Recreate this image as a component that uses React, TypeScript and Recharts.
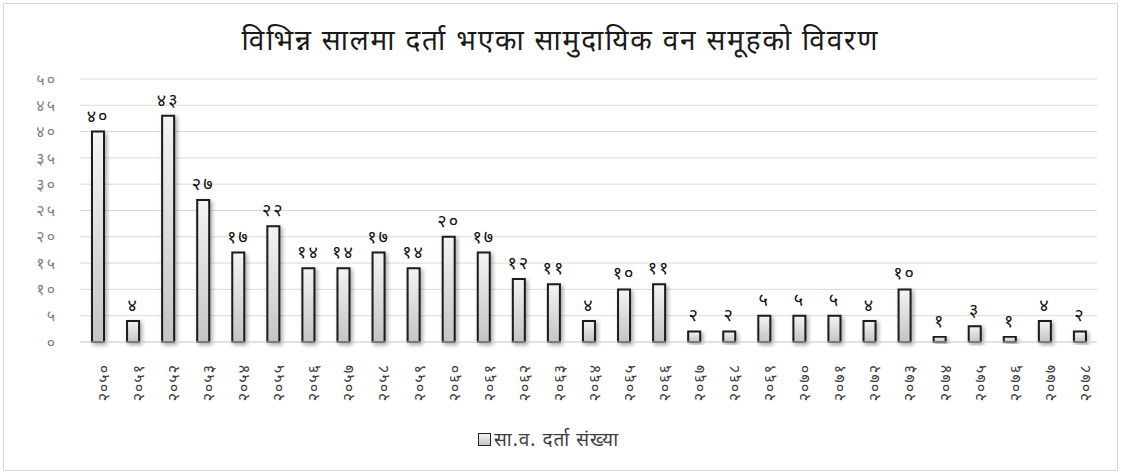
import React from 'react';
import { BarChart, Bar, XAxis, YAxis, CartesianGrid, Legend, LabelList } from 'recharts';

const years = [
  '२०५०', '२०५१', '२०५२', '२०५३', '२०५४', '२०५५', '२०५६', '२०५७', '२०५८', '२०५९',
  '२०६०', '२०६१', '२०६२', '२०६३', '२०६४', '२०६५', '२०६६', '२०६७', '२०६८', '२०६९',
  '२०७०', '२०७१', '२०७२', '२०७३', '२०७४', '२०७५', '२०७६', '२०७७', '२०७८',
];
const counts = [40, 4, 43, 27, 17, 22, 14, 14, 17, 14, 20, 17, 12, 11, 4, 10, 11, 2, 2, 5, 5, 5, 4, 10, 1, 3, 1, 4, 2];
const yTicks = [0, 5, 10, 15, 20, 25, 30, 35, 40, 45, 50];
const seriesName = 'सा.व. दर्ता संख्या';
const title = 'विभिन्न सालमा दर्ता भएका सामुदायिक वन समूहको विवरण';

const neDigits = '०१२३४५६७८९';
const toNe = (v: any) => String(v).replace(/[0-9]/g, (d) => neDigits[Number(d)]);

const data = years.map((y, i) => ({ year: y, count: counts[i] }));

const FONT = '"Noto Sans", "Noto Sans Devanagari", "Lohit Devanagari", sans-serif';

const LegendContent = () => (
  <div style={{ display: 'flex', justifyContent: 'center', alignItems: 'center', fontFamily: FONT, fontSize: 19, color: '#404040', letterSpacing: 1, lineHeight: '26px' }}>
    <span style={{ display: 'inline-block', width: 11, height: 11, border: '1.5px solid #222', background: 'linear-gradient(#f4f4f4, #c4c4c4)', marginRight: 3 }} />
    <span>{seriesName}</span>
  </div>
);

export default function App() {
  return (
    <div style={{ position: 'absolute', left: 0, top: 0, width: 1121, height: 474, background: '#fff' }}>
      <div style={{ position: 'absolute', left: 3, top: 3, width: 1113, height: 466, border: '1px solid #d9d9d9' }} />
      <div style={{ position: 'absolute', left: 0, top: 20, width: 1121, textAlign: 'center', fontFamily: FONT, fontSize: 28, color: '#1a1a1a', letterSpacing: 1.8 }}>
        {title}
      </div>
      <div style={{ position: 'absolute', left: 0, top: 0 }}>
        <BarChart width={1121} height={474} data={data} margin={{ top: 79, right: 24, left: 0, bottom: 22 }}>
          <defs>
            <linearGradient id="barFill" x1="0" y1="0" x2="0" y2="1">
              <stop offset="0%" stopColor="#f4f4f4" />
              <stop offset="100%" stopColor="#c4c4c4" />
            </linearGradient>
            <filter id="barShadow" x="-50%" y="-10%" width="200%" height="130%">
              <feDropShadow dx="2" dy="2" stdDeviation="2" floodColor="#000" floodOpacity="0.35" />
            </filter>
          </defs>
          <CartesianGrid vertical={false} stroke="#d9d9d9" />
          <XAxis
            dataKey="year"
            interval={0}
            angle={-90}
            textAnchor="end"
            height={84}
            tickLine={false}
            axisLine={{ stroke: '#d9d9d9' }}
            tickMargin={16}
            tick={{ fill: '#404040', fontSize: 16, fontFamily: FONT, letterSpacing: 1 }}
          />
          <YAxis
            width={80}
            domain={[0, 50]}
            ticks={yTicks}
            interval={0}
            tickFormatter={toNe}
            axisLine={false}
            tickLine={false}
            tickMargin={17}
            tick={{ fill: '#7f7f7f', fontSize: 16, fontFamily: FONT, letterSpacing: 2 }}
          />
          <Legend verticalAlign="bottom" content={<LegendContent />} />
          <Bar
            dataKey="count"
            name={seriesName}
            barSize={12}
            fill="url(#barFill)"
            stroke="#1a1a1a"
            strokeWidth={2}
            filter="url(#barShadow)"
            isAnimationActive={false}
          >
            <LabelList dataKey="count" position="top" offset={10} formatter={toNe} style={{ fill: '#111', fontSize: 18, fontFamily: FONT, letterSpacing: 2 }} />
          </Bar>
        </BarChart>
      </div>
    </div>
  );
}
